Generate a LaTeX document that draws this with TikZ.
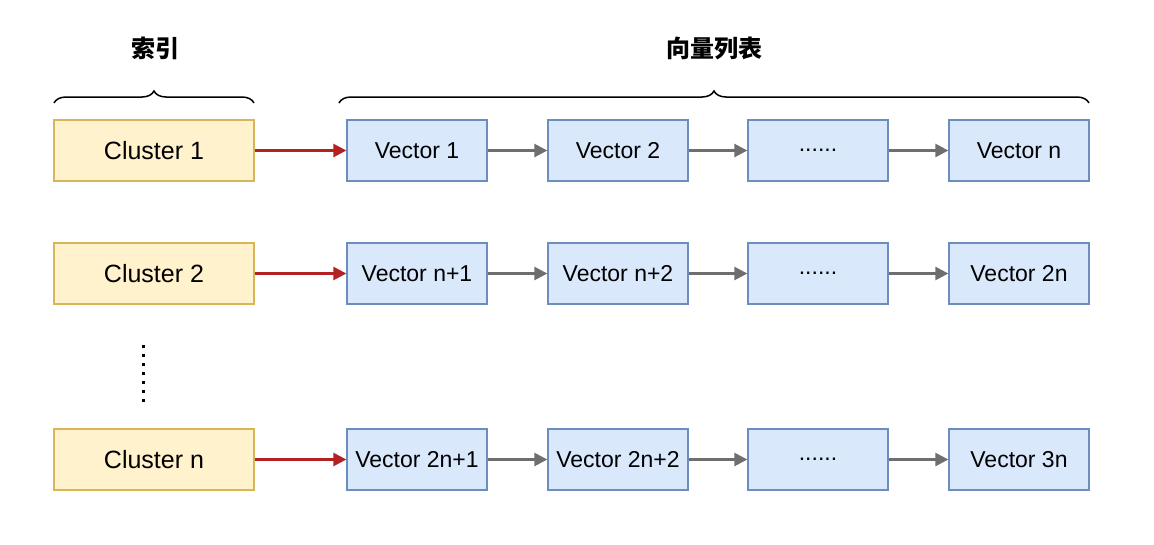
\documentclass[tikz,border=0pt]{standalone}
\usepackage{fontspec}
\setmainfont{Liberation Sans}
\newfontfamily\cjk{Noto Sans CJK SC}
\usetikzlibrary{decorations.pathreplacing,arrows.meta}
\begin{document}
\begin{tikzpicture}[x=1pt,y=-1pt,
  cl/.style={draw={rgb,255:red,214;green,182;blue,86},fill={rgb,255:red,255;green,242;blue,204},line width=1.3pt,minimum width=200pt,minimum height=61pt,inner sep=0pt,font=\fontsize{25}{30}\selectfont},
  vc/.style={draw={rgb,255:red,108;green,142;blue,191},fill={rgb,255:red,218;green,232;blue,252},line width=1.3pt,minimum width=140pt,minimum height=61pt,inner sep=0pt,font=\fontsize{23}{28}\selectfont},
  ra/.style={draw={rgb,255:red,178;green,34;blue,34},line width=2.5pt,-{Triangle[length=13pt,width=13pt]}},
  ga/.style={draw={rgb,255:red,110;green,110;blue,110},line width=2.5pt,-{Triangle[length=13pt,width=13pt]}},
  br/.style={decorate,decoration={brace,amplitude=12pt},line width=1.5pt},
  tt/.style={font=\cjk\bfseries\fontsize{24}{28}\selectfont}]
\useasboundingbox (0,0) rectangle (1154,544);
\node[tt] (t1) at (155,48) {索引};
\node[tt] (t2) at (714,48) {向量列表};
\coordinate (b1a) at (54,103); \coordinate (b1b) at (254,103);
\coordinate (b2a) at (339,103); \coordinate (b2b) at (1089,103);
\draw[br] (b1a) -- (b1b);
\draw[br] (b2a) -- (b2b);
\foreach \r/\y/\c/\a/\b/\d in {1/150.5/Cluster 1/Vector 1/Vector 2/Vector n,2/273.5/Cluster 2/Vector n+1/Vector n+2/Vector 2n,3/459.5/Cluster n/Vector 2n+1/Vector 2n+2/Vector 3n}{
  \node[cl] (c\r) at (154,\y) {\c};
  \node[vc] (v\r a) at (417,\y) {\a};
  \node[vc] (v\r b) at (618,\y) {\b};
  \node[vc] (v\r c) at (818,\y) {......};
  \node[vc] (v\r d) at (1019,\y) {\d};
  \draw[ra] (c\r) -- (v\r a);
  \draw[ga] (v\r a) -- (v\r b);
  \draw[ga] (v\r b) -- (v\r c);
  \draw[ga] (v\r c) -- (v\r d);
}
\coordinate (d1) at (143,345); \coordinate (d2) at (143,402);
\draw[line width=3pt,dash pattern=on 3pt off 6pt] (d1) -- (d2);
\end{tikzpicture}
\end{document}
